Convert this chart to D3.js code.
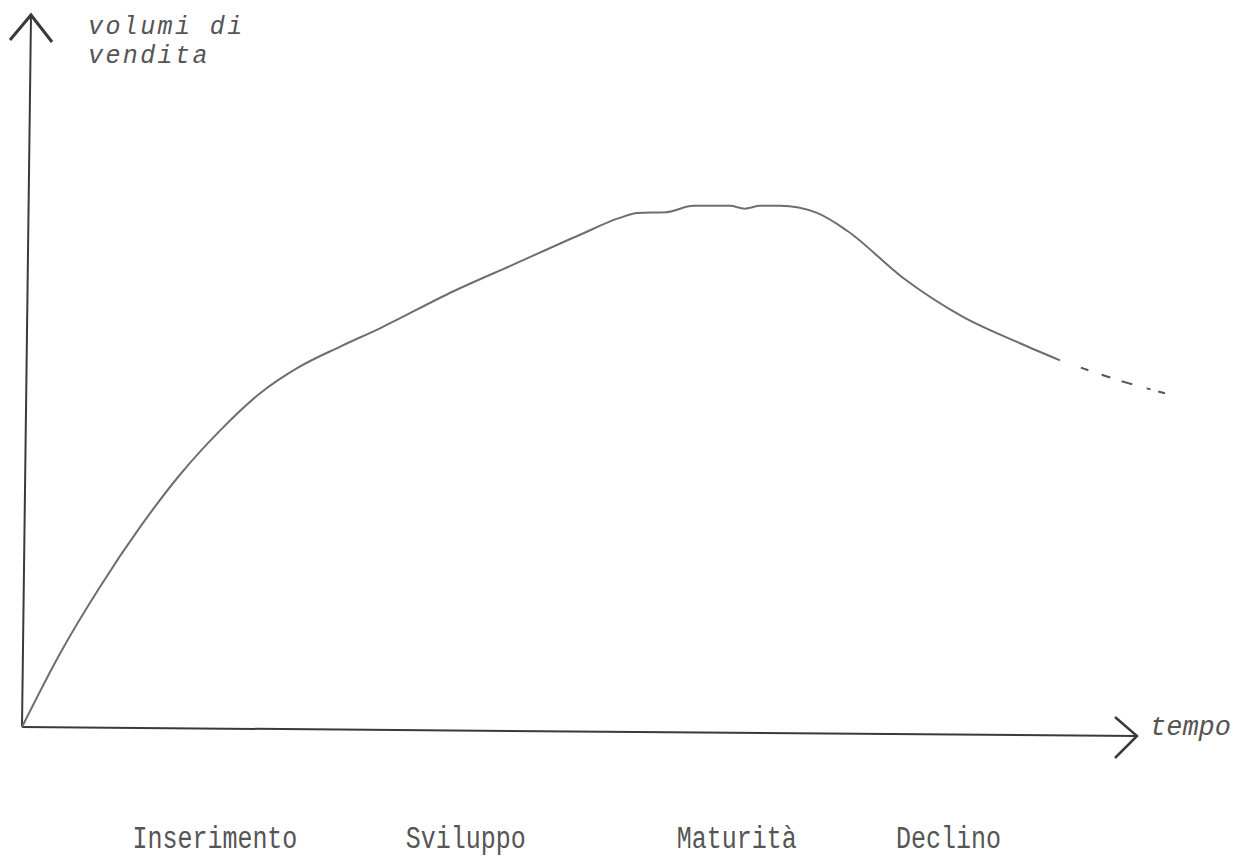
<!DOCTYPE html>
<html>
<head>
<meta charset="utf-8">
<script src="https://cdn.jsdelivr.net/npm/d3@7"></script>
<style>
  body { margin: 0; background: #fff; }
  text { font-family: "Liberation Mono", "DejaVu Sans Mono", monospace; fill: #555; }
</style>
</head>
<body>
<div id="chart"></div>
<script>
// Sales curve (product life cycle)
const timeSolid = [0, 3.4, 7.0, 10.6, 14.2, 17.8, 21.3, 24.9, 28.5, 32.1, 38.7, 44.0, 50.0, 53.6, 55.2, 57.8, 60.2, 63.5, 64.8, 66.2, 68.0, 71.3, 74.0, 79.0, 84.4, 89.5, 93.1];
const volumeSolid = [0, 10.3, 19.7, 28.1, 35.5, 41.7, 46.8, 50.6, 53.4, 56.0, 61.2, 64.9, 69.1, 71.5, 72.2, 72.3, 73.2, 73.2, 72.8, 73.2, 73.2, 72.2, 69.7, 63.1, 57.6, 53.9, 51.5];

// dashed tail (forecast)
const timeDashed = [93.1, 99.2, 102.7];
const volumeDashed = [51.5, 48.3, 46.8];

// phase labels under the time axis
const phases = ["Inserimento", "Sviluppo", "Maturità", "Declino"];
const phasePos = [17.3, 39.8, 64.1, 83.1];

const width = 1252, height = 860;

const svg = d3.select("#chart")
    .append("svg")
    .attr("width", width)
    .attr("height", height);

const x = d3.scaleLinear().domain([0, 100]).range([22, 1137]);
const y = d3.scaleLinear().domain([0, 100]).range([727, 15]);

const axisColor = "#3a3a3a";

// Y axis (hand drawn, leans a little)
svg.append("line")
    .attr("x1", x(0)).attr("y1", y(0))
    .attr("x2", 31).attr("y2", y(100))
    .attr("stroke", axisColor).attr("stroke-width", 2);
svg.append("path")
    .attr("d", `M10,40 L31,${y(100)} L52,42`)
    .attr("fill", "none")
    .attr("stroke", axisColor).attr("stroke-width", 3);

// X axis
svg.append("line")
    .attr("x1", x(0)).attr("y1", y(0))
    .attr("x2", x(100)).attr("y2", 736)
    .attr("stroke", axisColor).attr("stroke-width", 2);
svg.append("path")
    .attr("d", `M1115,717 L${x(100)},736 L1115,758`)
    .attr("fill", "none")
    .attr("stroke", axisColor).attr("stroke-width", 2.5);

// Axis labels
const ylab = svg.append("text")
    .style("font-size", "25px")
    .style("font-style", "italic")
    .style("letter-spacing", "2.4px");
ylab.append("tspan").attr("x", 88).attr("y", 34).text("volumi di");
ylab.append("tspan").attr("x", 88).attr("y", 63).text("vendita");

svg.append("text")
    .attr("x", 1150)
    .attr("y", 735)
    .style("font-size", "27px")
    .style("font-style", "italic")
    .text("tempo");

// Curve
const line = d3.line()
    .x(d => x(d[0]))
    .y(d => y(d[1]))
    .curve(d3.curveMonotoneX);

svg.append("path")
    .datum(d3.zip(timeSolid, volumeSolid))
    .attr("d", line)
    .attr("fill", "none")
    .attr("stroke", "#6e6e6e")
    .attr("stroke-width", 2);

svg.append("path")
    .datum(d3.zip(timeDashed, volumeDashed))
    .attr("d", line)
    .attr("fill", "none")
    .attr("stroke", "#555")
    .attr("stroke-width", 2)
    .attr("stroke-dasharray", "0 22 8 14 9 12 11 15 4 8 7 10");

// Phase labels
svg.selectAll(".phase")
    .data(phases)
    .enter()
    .append("text")
    .attr("class", "phase")
    .attr("transform", (d, i) => `translate(${x(phasePos[i])},848) scale(1,1.25)`)
    .attr("text-anchor", "middle")
    .style("font-size", "25px")
    .text(d => d);
</script>
</body>
</html>
